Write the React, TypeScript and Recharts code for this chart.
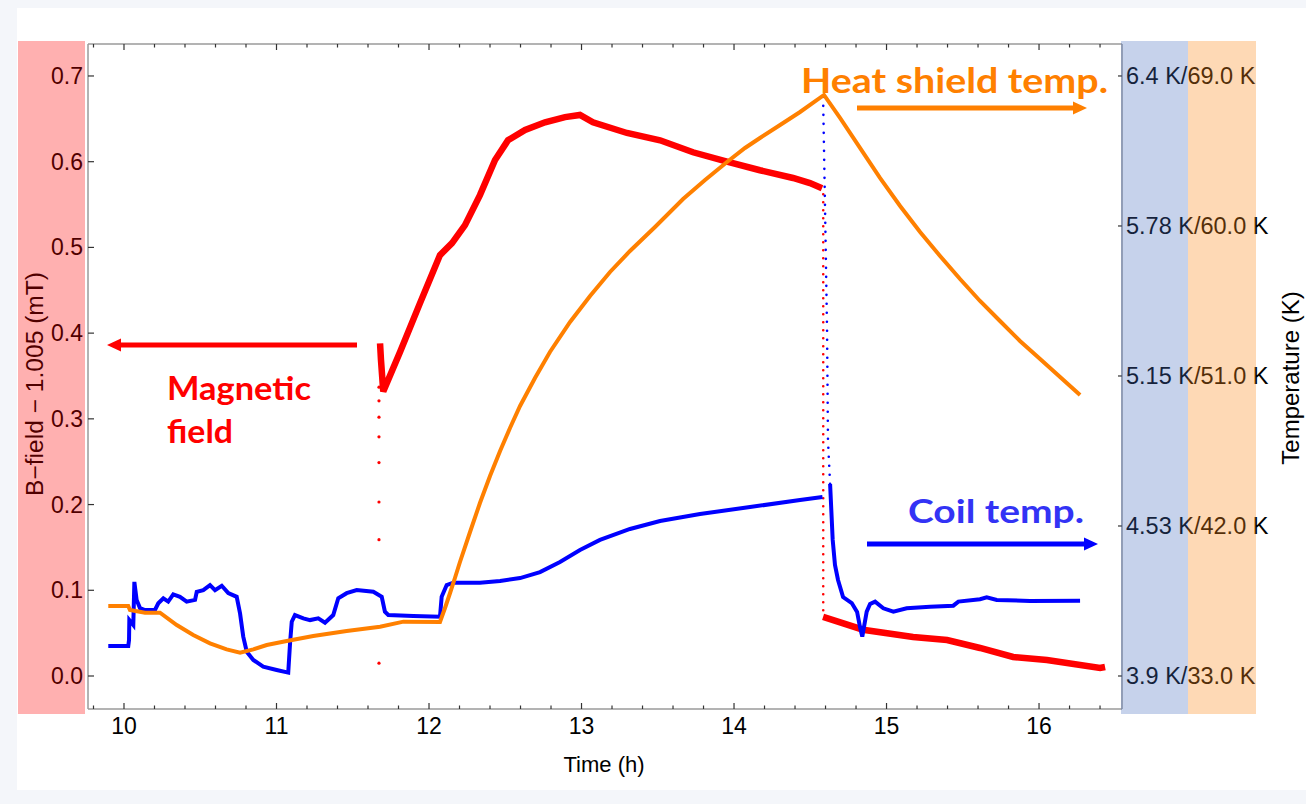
import React from 'react';
import { ComposedChart, Line, XAxis, YAxis } from 'recharts';

// Time axis ticks (h): labelled hours plus 0.2 h minor ticks
const TIME_TICKS = [
  9.8, 10, 10.2, 10.4, 10.6, 10.8, 11, 11.2, 11.4, 11.6, 11.8, 12, 12.2, 12.4, 12.6, 12.8, 13,
  13.2, 13.4, 13.6, 13.8, 14, 14.2, 14.4, 14.6, 14.8, 15, 15.2, 15.4, 15.6, 15.8, 16, 16.2, 16.4,
];
const B_TICKS = [0, 0.1, 0.2, 0.3, 0.4, 0.5, 0.6, 0.7];
const HEAT_TICKS = [33, 42, 51, 60, 69];
const COIL_TICK_LABELS = ['3.9', '4.53', '5.15', '5.78', '6.4'];

// Magnetic field, B - 1.005 mT
const fieldSettle = [
  { t: 11.672, b: 0.015 }, { t: 11.672, b: 0.159 }, { t: 11.672, b: 0.203 }, { t: 11.672, b: 0.249 },
  { t: 11.672, b: 0.279 }, { t: 11.672, b: 0.302 }, { t: 11.672, b: 0.321 }, { t: 11.672, b: 0.337 },
];
const fieldRamp = [
  { t: 11.679, b: 0.388 }, { t: 11.685, b: 0.369 }, { t: 11.7, b: 0.332 }, { t: 11.81, b: 0.378 },
  { t: 11.941, b: 0.435 }, { t: 12.072, b: 0.491 }, { t: 12.151, b: 0.505 }, { t: 12.236, b: 0.526 },
  { t: 12.334, b: 0.561 }, { t: 12.433, b: 0.602 }, { t: 12.518, b: 0.625 }, { t: 12.63, b: 0.637 },
  { t: 12.761, b: 0.646 }, { t: 12.892, b: 0.652 }, { t: 12.99, b: 0.6545 }, { t: 13.075, b: 0.646 },
  { t: 13.298, b: 0.6335 }, { t: 13.515, b: 0.625 }, { t: 13.731, b: 0.611 }, { t: 13.954, b: 0.6 },
  { t: 14.17, b: 0.59 }, { t: 14.387, b: 0.581 }, { t: 14.498, b: 0.575 }, { t: 14.577, b: 0.569 },
];
const fieldQuench = [{ t: 14.585, b: 0.562 }, { t: 14.585, b: 0.075 }];
const fieldDecay = [
  { t: 14.584, b: 0.069 }, { t: 14.846, b: 0.054 }, { t: 15.174, b: 0.0455 }, { t: 15.397, b: 0.042 },
  { t: 15.613, b: 0.0327 }, { t: 15.83, b: 0.0222 }, { t: 16.052, b: 0.0187 }, { t: 16.4, b: 0.0093 },
  { t: 16.433, b: 0.0105 },
];

// Coil temperature (K)
const coilBefore = [
  { t: 9.897, c: 4.025 }, { t: 10.028, c: 4.025 }, { t: 10.033, c: 4.05 }, { t: 10.035, c: 4.133 },
  { t: 10.061, c: 4.1125 }, { t: 10.068, c: 4.292 }, { t: 10.083, c: 4.217 }, { t: 10.105, c: 4.183 },
  { t: 10.138, c: 4.175 }, { t: 10.203, c: 4.175 }, { t: 10.225, c: 4.203 }, { t: 10.258, c: 4.224 },
  { t: 10.29, c: 4.21 }, { t: 10.323, c: 4.24 }, { t: 10.367, c: 4.23 }, { t: 10.411, c: 4.21 },
  { t: 10.466, c: 4.217 }, { t: 10.477, c: 4.251 }, { t: 10.52, c: 4.258 }, { t: 10.564, c: 4.279 },
  { t: 10.597, c: 4.258 }, { t: 10.641, c: 4.276 }, { t: 10.684, c: 4.245 }, { t: 10.739, c: 4.23 },
  { t: 10.761, c: 4.161 }, { t: 10.782, c: 4.064 }, { t: 10.805, c: 4.001 }, { t: 10.848, c: 3.967 },
  { t: 10.913, c: 3.939 }, { t: 11.001, c: 3.925 }, { t: 11.077, c: 3.914 }, { t: 11.089, c: 4.0375 },
  { t: 11.1, c: 4.126 }, { t: 11.121, c: 4.154 }, { t: 11.176, c: 4.14 }, { t: 11.22, c: 4.133 },
  { t: 11.274, c: 4.14 }, { t: 11.318, c: 4.122 }, { t: 11.372, c: 4.154 }, { t: 11.405, c: 4.224 },
  { t: 11.46, c: 4.245 }, { t: 11.526, c: 4.258 }, { t: 11.635, c: 4.251 }, { t: 11.69, c: 4.23 },
  { t: 11.711, c: 4.168 }, { t: 11.733, c: 4.154 }, { t: 11.897, c: 4.15 }, { t: 12.072, c: 4.147 },
  { t: 12.083, c: 4.23 }, { t: 12.116, c: 4.279 }, { t: 12.159, c: 4.289 }, { t: 12.334, c: 4.289 },
  { t: 12.466, c: 4.296 }, { t: 12.597, c: 4.308 }, { t: 12.728, c: 4.333 }, { t: 12.859, c: 4.375 },
  { t: 12.99, c: 4.425 }, { t: 13.121, c: 4.467 }, { t: 13.318, c: 4.5125 }, { t: 13.515, c: 4.546 },
  { t: 13.777, c: 4.575 }, { t: 14.105, c: 4.604 }, { t: 14.433, c: 4.633 }, { t: 14.58, c: 4.646 },
];
const coilQuench = [
  { t: 14.584, c: 6.313 }, { t: 14.597, c: 5.842 }, { t: 14.61, c: 5.342 }, { t: 14.616, c: 4.883 },
  { t: 14.63, c: 4.7 },
];
const coilAfter = [
  { t: 14.63, c: 4.7 }, { t: 14.647, c: 4.467 }, { t: 14.662, c: 4.3625 }, { t: 14.682, c: 4.3 },
  { t: 14.715, c: 4.229 }, { t: 14.772, c: 4.204 }, { t: 14.807, c: 4.167 }, { t: 14.826, c: 4.104 },
  { t: 14.841, c: 4.064 }, { t: 14.87, c: 4.168 }, { t: 14.892, c: 4.2 }, { t: 14.925, c: 4.21 },
  { t: 14.979, c: 4.182 }, { t: 15.045, c: 4.168 }, { t: 15.132, c: 4.182 }, { t: 15.285, c: 4.189 },
  { t: 15.438, c: 4.193 }, { t: 15.471, c: 4.21 }, { t: 15.613, c: 4.22 }, { t: 15.657, c: 4.228 },
  { t: 15.723, c: 4.217 }, { t: 15.941, c: 4.2125 }, { t: 16.269, c: 4.214 },
];

// Heat shield temperature (K)
const heatShield = [
  { t: 9.897, h: 37.2 }, { t: 10.028, h: 37.2 }, { t: 10.039, h: 36.96 }, { t: 10.138, h: 36.8 },
  { t: 10.236, h: 36.8 }, { t: 10.346, h: 36.06 }, { t: 10.454, h: 35.46 }, { t: 10.564, h: 34.96 },
  { t: 10.673, h: 34.6 }, { t: 10.761, h: 34.4 }, { t: 10.848, h: 34.6 }, { t: 10.936, h: 34.86 },
  { t: 11.067, h: 35.1 }, { t: 11.241, h: 35.4 }, { t: 11.46, h: 35.7 }, { t: 11.679, h: 35.96 },
  { t: 11.832, h: 36.26 }, { t: 12.072, h: 36.24 }, { t: 12.105, h: 37.08 }, { t: 12.138, h: 37.98 },
  { t: 12.17, h: 38.88 }, { t: 12.203, h: 39.84 }, { t: 12.269, h: 41.64 }, { t: 12.334, h: 43.38 },
  { t: 12.4, h: 45.0 }, { t: 12.466, h: 46.5 }, { t: 12.531, h: 47.88 }, { t: 12.597, h: 49.2 },
  { t: 12.695, h: 50.88 }, { t: 12.793, h: 52.44 }, { t: 12.925, h: 54.24 }, { t: 13.056, h: 55.8 },
  { t: 13.187, h: 57.24 }, { t: 13.318, h: 58.5 }, { t: 13.482, h: 59.94 }, { t: 13.666, h: 61.62 },
  { t: 13.81, h: 62.76 }, { t: 13.954, h: 63.84 }, { t: 14.072, h: 64.68 }, { t: 14.17, h: 65.28 },
  { t: 14.302, h: 66.06 }, { t: 14.433, h: 66.84 }, { t: 14.59, h: 67.86 }, { t: 14.695, h: 66.48 },
  { t: 14.826, h: 64.68 }, { t: 14.957, h: 62.88 }, { t: 15.089, h: 61.2 }, { t: 15.22, h: 59.64 },
  { t: 15.351, h: 58.2 }, { t: 15.482, h: 56.82 }, { t: 15.613, h: 55.5 }, { t: 15.744, h: 54.3 },
  { t: 15.875, h: 53.1 }, { t: 16.007, h: 52.02 }, { t: 16.138, h: 50.94 }, { t: 16.269, h: 49.86 },
];

const T_DOMAIN: [number, number] = [9.764, 16.544];
const B_DOMAIN: [number, number] = [-0.0385, 0.7373];
// temperature scales share the frame: 0 mT <-> 3.9 K / 33 K, 0.7 mT <-> 6.4 K / 69 K
const HEAT_DOMAIN: [number, number] = [33 + (B_DOMAIN[0] * 36) / 0.7, 33 + (B_DOMAIN[1] * 36) / 0.7];
const COIL_DOMAIN: [number, number] = [3.9 + (B_DOMAIN[0] * 2.5) / 0.7, 3.9 + (B_DOMAIN[1] * 2.5) / 0.7];

const RED = '#ff0000';
const BLUE = '#0000ff';
const ORANGE = '#ff8000';
const FRAME = '#9a9a9a';
const TICK = '#333';
const FONT = '"Liberation Sans", Arial, sans-serif';
const NOTE_FONT = 'Lato, "Open Sans", sans-serif';
const TICK_FONT_SIZE = 23;

const isHour = (v: number) => Math.abs(v - Math.round(v)) < 1e-6;

const BottomTick = ({ x, y, payload }: any) => {
  const major = isHour(payload.value);
  return (
    <g>
      <line x1={x} x2={x} y1={y} y2={y - (major ? 6 : 3.5)} stroke={TICK} strokeWidth={1.2} />
      {major && (
        <text x={x} y={y + 25} textAnchor="middle" fontSize={TICK_FONT_SIZE} fontFamily={FONT} fill="#000">
          {payload.value}
        </text>
      )}
    </g>
  );
};

const TopTick = ({ x, y, payload }: any) => {
  const major = isHour(payload.value);
  return <line x1={x} x2={x} y1={y} y2={y + (major ? 6 : 3.5)} stroke={TICK} strokeWidth={1.2} />;
};

const LeftTick = ({ x, y, payload }: any) => (
  <g>
    <line x1={x} x2={x + 6} y1={y} y2={y} stroke={TICK} strokeWidth={1.2} />
    <text x={x - 5} y={y + 8} textAnchor="end" fontSize={TICK_FONT_SIZE} fontFamily={FONT} fill="#000">
      {Number(payload.value).toFixed(1)}
    </text>
  </g>
);

const RightTick = ({ x, y, payload, index }: any) => (
  <g>
    <line x1={x} x2={x - 4} y1={y} y2={y} stroke={TICK} strokeWidth={1.2} />
    <text x={x + 4} y={y + 8} textAnchor="start" fontSize={TICK_FONT_SIZE + 0.5} fontFamily={FONT} fill="#000">
      {`${COIL_TICK_LABELS[index]} K/${Number(payload.value).toFixed(1)} K`}
    </text>
  </g>
);

const Arrow = ({ x1, x2, y, color }: { x1: number; x2: number; y: number; color: string }) => {
  const dir = x2 > x1 ? 1 : -1;
  const base = x2 - dir * 14;
  return (
    <g>
      <line x1={x1} x2={base} y1={y} y2={y} stroke={color} strokeWidth={5} />
      <polygon points={`${base},${y - 6.5} ${x2},${y} ${base},${y + 6.5}`} fill={color} />
    </g>
  );
};

const App: React.FC = () => {
  return (
    <div
      style={{
        position: 'absolute',
        left: 0,
        top: 0,
        width: 1306,
        height: 804,
        background: '#f4f6fa',
        overflow: 'hidden',
      }}
    >
      <div style={{ position: 'absolute', left: 17, top: 8, width: 1289, height: 782, background: '#fff' }} />
      <div style={{ position: 'absolute', left: 0, top: 0 }}>
        <ComposedChart width={1306} height={804} margin={{ top: 14, right: 34, bottom: 55, left: 28 }}>
          <XAxis
            dataKey="t"
            type="number"
            domain={T_DOMAIN}
            allowDataOverflow
            ticks={TIME_TICKS}
            interval={0}
            height={40}
            tickSize={0}
            tickMargin={0}
            tickLine={false}
            tick={BottomTick}
            axisLine={{ stroke: FRAME, strokeWidth: 1.5 }}
          />
          <XAxis
            xAxisId="top"
            orientation="top"
            dataKey="t"
            type="number"
            domain={T_DOMAIN}
            allowDataOverflow
            ticks={TIME_TICKS}
            interval={0}
            height={30}
            tickSize={0}
            tickMargin={0}
            tickLine={false}
            tick={TopTick}
            axisLine={{ stroke: FRAME, strokeWidth: 1.5 }}
          />
          <YAxis
            yAxisId="b"
            type="number"
            domain={B_DOMAIN}
            allowDataOverflow
            ticks={B_TICKS}
            interval={0}
            width={60}
            tickSize={0}
            tickMargin={0}
            tickLine={false}
            tick={LeftTick}
            axisLine={{ stroke: FRAME, strokeWidth: 1.5 }}
          />
          <YAxis
            yAxisId="heat"
            orientation="right"
            type="number"
            domain={HEAT_DOMAIN}
            allowDataOverflow
            ticks={HEAT_TICKS}
            interval={0}
            width={150}
            tickSize={0}
            tickMargin={0}
            tickLine={false}
            tick={RightTick}
            axisLine={{ stroke: FRAME, strokeWidth: 1.5 }}
          />
          <YAxis yAxisId="coil" type="number" domain={COIL_DOMAIN} allowDataOverflow hide />

          {/* magnetic field */}
          <Line
            yAxisId="b"
            data={fieldSettle}
            dataKey="b"
            stroke="none"
            dot={{ r: 1.6, fill: RED, stroke: 'none' }}
            activeDot={false}
            isAnimationActive={false}
          />
          <Line yAxisId="b" data={fieldRamp} dataKey="b" stroke={RED} strokeWidth={6.5} dot={false} isAnimationActive={false} />
          <Line
            yAxisId="b"
            data={fieldQuench}
            dataKey="b"
            stroke={RED}
            strokeWidth={2.6}
            strokeDasharray="0 8"
            strokeLinecap="round"
            dot={false}
            isAnimationActive={false}
          />
          <Line yAxisId="b" data={fieldDecay} dataKey="b" stroke={RED} strokeWidth={6.5} dot={false} isAnimationActive={false} />

          {/* coil temperature */}
          <Line yAxisId="coil" data={coilBefore} dataKey="c" stroke={BLUE} strokeWidth={4} dot={false} isAnimationActive={false} />
          <Line
            yAxisId="coil"
            data={coilQuench}
            dataKey="c"
            stroke={BLUE}
            strokeWidth={2.6}
            strokeDasharray="0 9"
            strokeLinecap="round"
            dot={false}
            isAnimationActive={false}
          />
          <Line yAxisId="coil" data={coilAfter} dataKey="c" stroke={BLUE} strokeWidth={4} dot={false} isAnimationActive={false} />

          {/* heat shield temperature */}
          <Line yAxisId="heat" data={heatShield} dataKey="h" stroke={ORANGE} strokeWidth={4} dot={false} isAnimationActive={false} />
        </ComposedChart>
      </div>

      <svg width={1306} height={804} style={{ position: 'absolute', left: 0, top: 0, pointerEvents: 'none' }}>
        <text x={604} y={772} textAnchor="middle" fontSize={22} fontFamily={FONT} fill="#000">
          Time (h)
        </text>
        <text
          transform="translate(43 384) rotate(-90)"
          textAnchor="middle"
          fontSize={23}
          fontFamily={FONT}
          fill="#000"
          textLength={224}
          lengthAdjust="spacingAndGlyphs"
        >
          B−field − 1.005 (mT)
        </text>
        <text transform="translate(1299 378) rotate(-90)" textAnchor="middle" fontSize={24} fontFamily={FONT} fill="#000">
          Temperature (K)
        </text>

        <text x={801} y={93} fontSize={35} fontWeight={700} fontFamily={NOTE_FONT} fill={ORANGE} textLength={307} lengthAdjust="spacingAndGlyphs">
          Heat shield temp.
        </text>
        <Arrow x1={857} x2={1087} y={108} color={ORANGE} />

        <text x={908} y={523} fontSize={33} fontWeight={700} fontFamily={NOTE_FONT} fill="#3333f5" textLength={176} lengthAdjust="spacingAndGlyphs">
          Coil temp.
        </text>
        <Arrow x1={867} x2={1098} y={544} color={BLUE} />

        <text x={167} y={400} fontSize={33} fontWeight={700} fontFamily={NOTE_FONT} fill={RED} textLength={144} lengthAdjust="spacingAndGlyphs">
          Magnetic
        </text>
        <text x={167} y={443} fontSize={33} fontWeight={700} fontFamily={NOTE_FONT} fill={RED} textLength={66} lengthAdjust="spacingAndGlyphs">
          field
        </text>
        <Arrow x1={357} x2={107} y={345} color={RED} />
      </svg>

      {/* tinted axis bands, laid over the tick labels */}
      <div style={{ position: 'absolute', left: 18, top: 41, width: 67, height: 673, background: 'rgba(255,0,0,0.31)' }} />
      <div style={{ position: 'absolute', left: 1121, top: 41, width: 67, height: 673, background: 'rgba(70,110,190,0.31)' }} />
      <div style={{ position: 'absolute', left: 1188, top: 41, width: 68, height: 673, background: 'rgba(252,140,30,0.33)' }} />
    </div>
  );
};

export default App;
